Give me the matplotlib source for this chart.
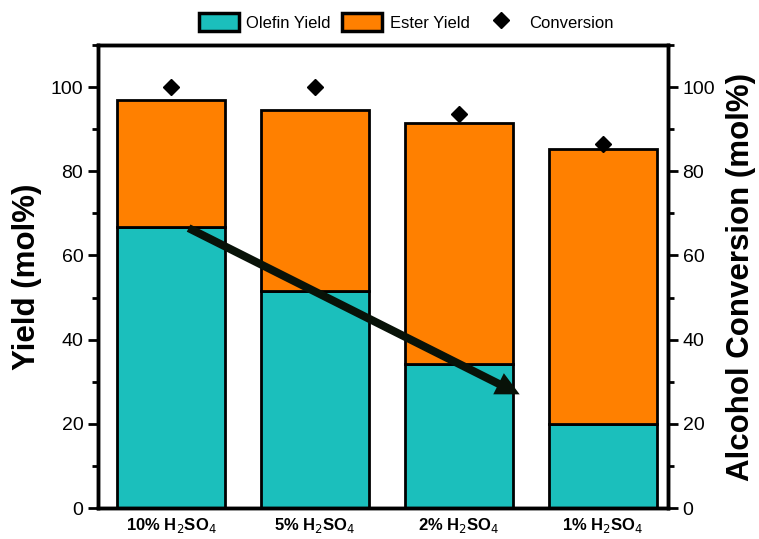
import matplotlib.pyplot as plt
from matplotlib.patches import Patch
from matplotlib.lines import Line2D
from matplotlib.ticker import MultipleLocator

plt.rcParams['font.family'] = ['Liberation Sans', 'DejaVu Sans']

catalysts = ['10% H$_2$SO$_4$', '5% H$_2$SO$_4$', '2% H$_2$SO$_4$', '1% H$_2$SO$_4$']
olefin_yield = [66.8, 51.5, 34.2, 19.9]
total_yield = [96.9, 94.5, 91.5, 85.2]
ester_yield = [t - o for t, o in zip(total_yield, olefin_yield)]
conversion = [100.0, 100.0, 93.6, 86.5]

teal = '#1bbfbc'
orange = '#ff8000'

fig = plt.figure(figsize=(7.59, 5.39), dpi=100)
ax = fig.add_axes([0.129, 0.0575, 0.751, 0.859])
x = range(len(catalysts))

ax.bar(x, olefin_yield, width=0.75, color=teal, edgecolor='black', linewidth=2)
ax.bar(x, ester_yield, bottom=olefin_yield, width=0.75, color=orange, edgecolor='black', linewidth=2)

ax2 = ax.twinx()
ax2.plot(x, conversion, 'D', color='black', markersize=8)

# trend arrow across the olefin yields
ax.annotate('', xy=(2.42, 27.0), xytext=(0.12, 66.5),
            arrowprops=dict(width=5.8, headwidth=17, headlength=17, facecolor='#081208',
                            edgecolor='#081208', linewidth=0, shrink=0))

for a in (ax, ax2):
    a.set_ylim(0, 110)
    a.yaxis.set_major_locator(MultipleLocator(20))
    a.yaxis.set_minor_locator(MultipleLocator(10))
    a.tick_params(axis='y', which='major', direction='out', length=7, width=2, labelsize=14)
    a.tick_params(axis='y', which='minor', direction='out', length=4, width=2)
    for s in a.spines.values():
        s.set_linewidth(2.5)

ax.set_xlim(-0.51, 3.45)
ax.set_xticks(list(x))
ax.set_xticklabels(catalysts, fontsize=12, fontweight='bold')
ax.tick_params(axis='x', length=0, pad=6)

ax.set_ylabel('Yield (mol%)', fontsize=22.5, fontweight='bold', labelpad=6)
ax2.set_ylabel('Alcohol Conversion (mol%)', fontsize=22.5, fontweight='bold', labelpad=8)

handles = [Patch(facecolor=teal, edgecolor='black', linewidth=2.5),
           Patch(facecolor=orange, edgecolor='black', linewidth=2.5),
           Line2D([], [], marker='D', color='black', linestyle='none', markersize=8)]
fig.legend(handles, ['Olefin Yield', 'Ester Yield', 'Conversion'], loc='center',
           bbox_to_anchor=(0.535, 0.959), ncol=3, frameon=False, fontsize=12,
           handlelength=2.4, handleheight=1.25, handletextpad=0.45, columnspacing=0.7,
           borderpad=0)

fig.savefig('out.png', dpi=100)
